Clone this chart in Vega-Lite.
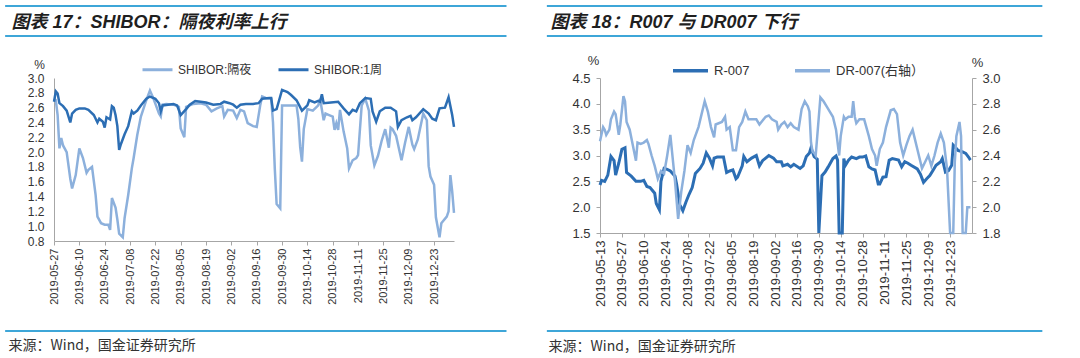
{
  "$schema": "https://vega.github.io/schema/vega-lite/v6.json",
  "background": "white",
  "padding": {"left": 4, "top": 4, "right": 0, "bottom": 0},
  "spacing": 37,
  "resolve": {"scale": {"color": "independent"}, "legend": {"color": "independent"}},
  "config": {
    "view": {"stroke": null},
    "font": "Liberation Sans, Noto Sans CJK SC",
    "axis": {"domainColor": "#A6A6A6", "tickColor": "#A6A6A6", "labelColor": "#333333", "titleColor": "#333333", "grid": false, "labelFont": "Liberation Sans", "titleFont": "Liberation Sans, Noto Sans CJK SC", "titleFontWeight": "normal", "labelOverlap": false},
    "legend": {"labelFont": "Liberation Sans, Noto Sans CJK SC", "labelColor": "#333333"}
  },
  "datasets": {
    "shibor": [
      {"date":"2019/05/27","series":"SHIBOR:隔夜","value":2.72},{"date":"2019/05/28","series":"SHIBOR:隔夜","value":2.70},{"date":"2019/05/29","series":"SHIBOR:隔夜","value":2.50},{"date":"2019/05/30","series":"SHIBOR:隔夜","value":2.05},{"date":"2019/05/31","series":"SHIBOR:隔夜","value":2.19},{"date":"2019/06/01","series":"SHIBOR:隔夜","value":2.09},{"date":"2019/06/03","series":"SHIBOR:隔夜","value":2.00},{"date":"2019/06/05","series":"SHIBOR:隔夜","value":1.64},{"date":"2019/06/06","series":"SHIBOR:隔夜","value":1.51},{"date":"2019/06/08","series":"SHIBOR:隔夜","value":1.69},{"date":"2019/06/10","series":"SHIBOR:隔夜","value":2.05},{"date":"2019/06/12","series":"SHIBOR:隔夜","value":1.92},{"date":"2019/06/14","series":"SHIBOR:隔夜","value":1.72},{"date":"2019/06/15","series":"SHIBOR:隔夜","value":1.76},{"date":"2019/06/17","series":"SHIBOR:隔夜","value":1.80},{"date":"2019/06/19","series":"SHIBOR:隔夜","value":1.42},{"date":"2019/06/20","series":"SHIBOR:隔夜","value":1.13},{"date":"2019/06/22","series":"SHIBOR:隔夜","value":1.04},{"date":"2019/06/24","series":"SHIBOR:隔夜","value":1.02},{"date":"2019/06/26","series":"SHIBOR:隔夜","value":1.02},{"date":"2019/06/27","series":"SHIBOR:隔夜","value":0.95},{"date":"2019/06/28","series":"SHIBOR:隔夜","value":1.38},{"date":"2019/06/30","series":"SHIBOR:隔夜","value":1.25},{"date":"2019/07/01","series":"SHIBOR:隔夜","value":1.09},{"date":"2019/07/02","series":"SHIBOR:隔夜","value":0.90},{"date":"2019/07/04","series":"SHIBOR:隔夜","value":0.85},{"date":"2019/07/05","series":"SHIBOR:隔夜","value":1.11},{"date":"2019/07/07","series":"SHIBOR:隔夜","value":1.42},{"date":"2019/07/09","series":"SHIBOR:隔夜","value":1.78},{"date":"2019/07/10","series":"SHIBOR:隔夜","value":1.92},{"date":"2019/07/12","series":"SHIBOR:隔夜","value":2.23},{"date":"2019/07/14","series":"SHIBOR:隔夜","value":2.48},{"date":"2019/07/17","series":"SHIBOR:隔夜","value":2.70},{"date":"2019/07/19","series":"SHIBOR:隔夜","value":2.83},{"date":"2019/07/21","series":"SHIBOR:隔夜","value":2.72},{"date":"2019/07/24","series":"SHIBOR:隔夜","value":2.52},{"date":"2019/07/25","series":"SHIBOR:隔夜","value":2.48},{"date":"2019/07/26","series":"SHIBOR:隔夜","value":2.64},{"date":"2019/07/28","series":"SHIBOR:隔夜","value":2.65},{"date":"2019/08/01","series":"SHIBOR:隔夜","value":2.64},{"date":"2019/08/04","series":"SHIBOR:隔夜","value":2.61},{"date":"2019/08/05","series":"SHIBOR:隔夜","value":2.32},{"date":"2019/08/07","series":"SHIBOR:隔夜","value":2.20},{"date":"2019/08/08","series":"SHIBOR:隔夜","value":2.61},{"date":"2019/08/12","series":"SHIBOR:隔夜","value":2.65},{"date":"2019/08/16","series":"SHIBOR:隔夜","value":2.66},{"date":"2019/08/19","series":"SHIBOR:隔夜","value":2.64},{"date":"2019/08/22","series":"SHIBOR:隔夜","value":2.55},{"date":"2019/08/25","series":"SHIBOR:隔夜","value":2.59},{"date":"2019/08/28","series":"SHIBOR:隔夜","value":2.62},{"date":"2019/08/29","series":"SHIBOR:隔夜","value":2.48},{"date":"2019/08/31","series":"SHIBOR:隔夜","value":2.57},{"date":"2019/09/03","series":"SHIBOR:隔夜","value":2.56},{"date":"2019/09/05","series":"SHIBOR:隔夜","value":2.46},{"date":"2019/09/07","series":"SHIBOR:隔夜","value":2.57},{"date":"2019/09/09","series":"SHIBOR:隔夜","value":2.55},{"date":"2019/09/11","series":"SHIBOR:隔夜","value":2.39},{"date":"2019/09/14","series":"SHIBOR:隔夜","value":2.35},{"date":"2019/09/16","series":"SHIBOR:隔夜","value":2.34},{"date":"2019/09/18","series":"SHIBOR:隔夜","value":2.64},{"date":"2019/09/19","series":"SHIBOR:隔夜","value":2.75},{"date":"2019/09/21","series":"SHIBOR:隔夜","value":2.73},{"date":"2019/09/24","series":"SHIBOR:隔夜","value":2.72},{"date":"2019/09/25","series":"SHIBOR:隔夜","value":2.40},{"date":"2019/09/26","series":"SHIBOR:隔夜","value":1.77},{"date":"2019/09/27","series":"SHIBOR:隔夜","value":1.30},{"date":"2019/09/29","series":"SHIBOR:隔夜","value":1.24},{"date":"2019/09/30","series":"SHIBOR:隔夜","value":2.63},{"date":"2019/10/03","series":"SHIBOR:隔夜","value":2.63},{"date":"2019/10/06","series":"SHIBOR:隔夜","value":2.63},{"date":"2019/10/08","series":"SHIBOR:隔夜","value":2.63},{"date":"2019/10/09","series":"SHIBOR:隔夜","value":2.45},{"date":"2019/10/10","series":"SHIBOR:隔夜","value":2.07},{"date":"2019/10/11","series":"SHIBOR:隔夜","value":1.87},{"date":"2019/10/12","series":"SHIBOR:隔夜","value":2.31},{"date":"2019/10/14","series":"SHIBOR:隔夜","value":2.58},{"date":"2019/10/17","series":"SHIBOR:隔夜","value":2.56},{"date":"2019/10/20","series":"SHIBOR:隔夜","value":2.63},{"date":"2019/10/21","series":"SHIBOR:隔夜","value":2.72},{"date":"2019/10/23","series":"SHIBOR:隔夜","value":2.43},{"date":"2019/10/24","series":"SHIBOR:隔夜","value":2.52},{"date":"2019/10/26","series":"SHIBOR:隔夜","value":2.50},{"date":"2019/10/28","series":"SHIBOR:隔夜","value":2.48},{"date":"2019/10/29","series":"SHIBOR:隔夜","value":2.30},{"date":"2019/10/30","series":"SHIBOR:隔夜","value":2.39},{"date":"2019/10/31","series":"SHIBOR:隔夜","value":2.30},{"date":"2019/11/01","series":"SHIBOR:隔夜","value":2.57},{"date":"2019/11/03","series":"SHIBOR:隔夜","value":2.28},{"date":"2019/11/05","series":"SHIBOR:隔夜","value":2.05},{"date":"2019/11/06","series":"SHIBOR:隔夜","value":1.78},{"date":"2019/11/08","series":"SHIBOR:隔夜","value":1.89},{"date":"2019/11/10","series":"SHIBOR:隔夜","value":1.92},{"date":"2019/11/11","series":"SHIBOR:隔夜","value":1.96},{"date":"2019/11/13","series":"SHIBOR:隔夜","value":2.63},{"date":"2019/11/15","series":"SHIBOR:隔夜","value":2.72},{"date":"2019/11/17","series":"SHIBOR:隔夜","value":2.56},{"date":"2019/11/18","series":"SHIBOR:隔夜","value":2.09},{"date":"2019/11/20","series":"SHIBOR:隔夜","value":1.82},{"date":"2019/11/22","series":"SHIBOR:隔夜","value":1.95},{"date":"2019/11/24","series":"SHIBOR:隔夜","value":2.15},{"date":"2019/11/26","series":"SHIBOR:隔夜","value":2.31},{"date":"2019/11/28","series":"SHIBOR:隔夜","value":2.06},{"date":"2019/11/29","series":"SHIBOR:隔夜","value":2.33},{"date":"2019/11/30","series":"SHIBOR:隔夜","value":2.31},{"date":"2019/12/02","series":"SHIBOR:隔夜","value":2.22},{"date":"2019/12/05","series":"SHIBOR:隔夜","value":1.89},{"date":"2019/12/07","series":"SHIBOR:隔夜","value":2.13},{"date":"2019/12/09","series":"SHIBOR:隔夜","value":2.34},{"date":"2019/12/11","series":"SHIBOR:隔夜","value":2.10},{"date":"2019/12/12","series":"SHIBOR:隔夜","value":2.04},{"date":"2019/12/14","series":"SHIBOR:隔夜","value":2.17},{"date":"2019/12/17","series":"SHIBOR:隔夜","value":2.52},{"date":"2019/12/19","series":"SHIBOR:隔夜","value":2.43},{"date":"2019/12/20","series":"SHIBOR:隔夜","value":1.81},{"date":"2019/12/21","series":"SHIBOR:隔夜","value":1.67},{"date":"2019/12/23","series":"SHIBOR:隔夜","value":1.56},{"date":"2019/12/24","series":"SHIBOR:隔夜","value":1.12},{"date":"2019/12/26","series":"SHIBOR:隔夜","value":0.85},{"date":"2019/12/27","series":"SHIBOR:隔夜","value":1.04},{"date":"2019/12/30","series":"SHIBOR:隔夜","value":1.13},{"date":"2019/12/31","series":"SHIBOR:隔夜","value":1.20},{"date":"2020/01/01","series":"SHIBOR:隔夜","value":1.69},{"date":"2020/01/02","series":"SHIBOR:隔夜","value":1.47},{"date":"2020/01/03","series":"SHIBOR:隔夜","value":1.18},
      {"date":"2019/05/27","series":"SHIBOR:1周","value":2.68},{"date":"2019/05/28","series":"SHIBOR:1周","value":2.82},{"date":"2019/05/29","series":"SHIBOR:1周","value":2.79},{"date":"2019/05/30","series":"SHIBOR:1周","value":2.66},{"date":"2019/06/01","series":"SHIBOR:1周","value":2.62},{"date":"2019/06/03","series":"SHIBOR:1周","value":2.56},{"date":"2019/06/05","series":"SHIBOR:1周","value":2.40},{"date":"2019/06/06","series":"SHIBOR:1周","value":2.52},{"date":"2019/06/08","series":"SHIBOR:1周","value":2.57},{"date":"2019/06/10","series":"SHIBOR:1周","value":2.59},{"date":"2019/06/13","series":"SHIBOR:1周","value":2.59},{"date":"2019/06/15","series":"SHIBOR:1周","value":2.57},{"date":"2019/06/18","series":"SHIBOR:1周","value":2.50},{"date":"2019/06/20","series":"SHIBOR:1周","value":2.40},{"date":"2019/06/21","series":"SHIBOR:1周","value":2.45},{"date":"2019/06/23","series":"SHIBOR:1周","value":2.41},{"date":"2019/06/24","series":"SHIBOR:1周","value":2.33},{"date":"2019/06/25","series":"SHIBOR:1周","value":2.47},{"date":"2019/06/27","series":"SHIBOR:1周","value":2.44},{"date":"2019/06/28","series":"SHIBOR:1周","value":2.62},{"date":"2019/06/29","series":"SHIBOR:1周","value":2.60},{"date":"2019/06/30","series":"SHIBOR:1周","value":2.50},{"date":"2019/07/01","series":"SHIBOR:1周","value":2.35},{"date":"2019/07/02","series":"SHIBOR:1周","value":2.03},{"date":"2019/07/03","series":"SHIBOR:1周","value":2.11},{"date":"2019/07/05","series":"SHIBOR:1周","value":2.24},{"date":"2019/07/07","series":"SHIBOR:1周","value":2.35},{"date":"2019/07/09","series":"SHIBOR:1周","value":2.55},{"date":"2019/07/10","series":"SHIBOR:1周","value":2.52},{"date":"2019/07/12","series":"SHIBOR:1周","value":2.56},{"date":"2019/07/14","series":"SHIBOR:1周","value":2.63},{"date":"2019/07/17","series":"SHIBOR:1周","value":2.72},{"date":"2019/07/19","series":"SHIBOR:1周","value":2.75},{"date":"2019/07/22","series":"SHIBOR:1周","value":2.72},{"date":"2019/07/24","series":"SHIBOR:1周","value":2.66},{"date":"2019/07/25","series":"SHIBOR:1周","value":2.55},{"date":"2019/07/26","series":"SHIBOR:1周","value":2.63},{"date":"2019/07/29","series":"SHIBOR:1周","value":2.64},{"date":"2019/08/01","series":"SHIBOR:1周","value":2.65},{"date":"2019/08/03","series":"SHIBOR:1周","value":2.63},{"date":"2019/08/05","series":"SHIBOR:1周","value":2.50},{"date":"2019/08/08","series":"SHIBOR:1周","value":2.58},{"date":"2019/08/10","series":"SHIBOR:1周","value":2.64},{"date":"2019/08/13","series":"SHIBOR:1周","value":2.69},{"date":"2019/08/16","series":"SHIBOR:1周","value":2.68},{"date":"2019/08/19","series":"SHIBOR:1周","value":2.67},{"date":"2019/08/23","series":"SHIBOR:1周","value":2.64},{"date":"2019/08/27","series":"SHIBOR:1周","value":2.65},{"date":"2019/08/29","series":"SHIBOR:1周","value":2.68},{"date":"2019/09/01","series":"SHIBOR:1周","value":2.66},{"date":"2019/09/03","series":"SHIBOR:1周","value":2.64},{"date":"2019/09/05","series":"SHIBOR:1周","value":2.60},{"date":"2019/09/07","series":"SHIBOR:1周","value":2.64},{"date":"2019/09/10","series":"SHIBOR:1周","value":2.65},{"date":"2019/09/14","series":"SHIBOR:1周","value":2.65},{"date":"2019/09/17","series":"SHIBOR:1周","value":2.66},{"date":"2019/09/19","series":"SHIBOR:1周","value":2.72},{"date":"2019/09/23","series":"SHIBOR:1周","value":2.73},{"date":"2019/09/24","series":"SHIBOR:1周","value":2.73},{"date":"2019/09/25","series":"SHIBOR:1周","value":2.56},{"date":"2019/09/27","series":"SHIBOR:1周","value":2.58},{"date":"2019/09/30","series":"SHIBOR:1周","value":2.84},{"date":"2019/10/03","series":"SHIBOR:1周","value":2.81},{"date":"2019/10/05","series":"SHIBOR:1周","value":2.77},{"date":"2019/10/08","series":"SHIBOR:1周","value":2.70},{"date":"2019/10/11","series":"SHIBOR:1周","value":2.56},{"date":"2019/10/14","series":"SHIBOR:1周","value":2.63},{"date":"2019/10/15","series":"SHIBOR:1周","value":2.70},{"date":"2019/10/18","series":"SHIBOR:1周","value":2.67},{"date":"2019/10/20","series":"SHIBOR:1周","value":2.69},{"date":"2019/10/21","series":"SHIBOR:1周","value":2.68},{"date":"2019/10/22","series":"SHIBOR:1周","value":2.78},{"date":"2019/10/23","series":"SHIBOR:1周","value":2.66},{"date":"2019/10/27","series":"SHIBOR:1周","value":2.67},{"date":"2019/10/31","series":"SHIBOR:1周","value":2.68},{"date":"2019/11/03","series":"SHIBOR:1周","value":2.59},{"date":"2019/11/06","series":"SHIBOR:1周","value":2.51},{"date":"2019/11/08","series":"SHIBOR:1周","value":2.57},{"date":"2019/11/10","series":"SHIBOR:1周","value":2.55},{"date":"2019/11/12","series":"SHIBOR:1周","value":2.66},{"date":"2019/11/15","series":"SHIBOR:1周","value":2.73},{"date":"2019/11/18","series":"SHIBOR:1周","value":2.72},{"date":"2019/11/19","series":"SHIBOR:1周","value":2.55},{"date":"2019/11/21","series":"SHIBOR:1周","value":2.41},{"date":"2019/11/23","series":"SHIBOR:1周","value":2.55},{"date":"2019/11/26","series":"SHIBOR:1周","value":2.60},{"date":"2019/11/29","series":"SHIBOR:1周","value":2.60},{"date":"2019/12/02","series":"SHIBOR:1周","value":2.55},{"date":"2019/12/03","series":"SHIBOR:1周","value":2.34},{"date":"2019/12/05","series":"SHIBOR:1周","value":2.43},{"date":"2019/12/08","series":"SHIBOR:1周","value":2.47},{"date":"2019/12/10","series":"SHIBOR:1周","value":2.49},{"date":"2019/12/11","series":"SHIBOR:1周","value":2.43},{"date":"2019/12/13","series":"SHIBOR:1周","value":2.47},{"date":"2019/12/17","series":"SHIBOR:1周","value":2.58},{"date":"2019/12/20","series":"SHIBOR:1周","value":2.52},{"date":"2019/12/22","series":"SHIBOR:1周","value":2.45},{"date":"2019/12/24","series":"SHIBOR:1周","value":2.43},{"date":"2019/12/26","series":"SHIBOR:1周","value":2.59},{"date":"2019/12/29","series":"SHIBOR:1周","value":2.60},{"date":"2019/12/31","series":"SHIBOR:1周","value":2.74},{"date":"2020/01/02","series":"SHIBOR:1周","value":2.50},{"date":"2020/01/03","series":"SHIBOR:1周","value":2.34}
    ],
    "r007": [
      {"date":"2019/05/13","series":"R-007","value":2.43},{"date":"2019/05/14","series":"R-007","value":2.52},{"date":"2019/05/16","series":"R-007","value":2.50},{"date":"2019/05/18","series":"R-007","value":2.62},{"date":"2019/05/20","series":"R-007","value":2.98},{"date":"2019/05/22","series":"R-007","value":2.90},{"date":"2019/05/23","series":"R-007","value":2.62},{"date":"2019/05/25","series":"R-007","value":2.85},{"date":"2019/05/27","series":"R-007","value":3.12},{"date":"2019/05/29","series":"R-007","value":3.15},{"date":"2019/05/30","series":"R-007","value":2.67},{"date":"2019/06/02","series":"R-007","value":2.60},{"date":"2019/06/05","series":"R-007","value":2.50},{"date":"2019/06/08","series":"R-007","value":2.50},{"date":"2019/06/10","series":"R-007","value":2.52},{"date":"2019/06/12","series":"R-007","value":2.40},{"date":"2019/06/14","series":"R-007","value":2.38},{"date":"2019/06/17","series":"R-007","value":2.27},{"date":"2019/06/18","series":"R-007","value":2.07},{"date":"2019/06/20","series":"R-007","value":1.95},{"date":"2019/06/21","series":"R-007","value":2.50},{"date":"2019/06/23","series":"R-007","value":2.75},{"date":"2019/06/25","series":"R-007","value":2.73},{"date":"2019/06/27","series":"R-007","value":2.70},{"date":"2019/06/30","series":"R-007","value":2.60},{"date":"2019/07/01","series":"R-007","value":2.45},{"date":"2019/07/03","series":"R-007","value":2.05},{"date":"2019/07/05","series":"R-007","value":1.93},{"date":"2019/07/07","series":"R-007","value":2.10},{"date":"2019/07/09","series":"R-007","value":2.25},{"date":"2019/07/11","series":"R-007","value":2.38},{"date":"2019/07/13","series":"R-007","value":2.65},{"date":"2019/07/16","series":"R-007","value":2.75},{"date":"2019/07/18","series":"R-007","value":2.85},{"date":"2019/07/20","series":"R-007","value":3.05},{"date":"2019/07/22","series":"R-007","value":2.95},{"date":"2019/07/24","series":"R-007","value":2.80},{"date":"2019/07/25","series":"R-007","value":2.95},{"date":"2019/07/27","series":"R-007","value":2.97},{"date":"2019/07/31","series":"R-007","value":2.97},{"date":"2019/08/02","series":"R-007","value":2.67},{"date":"2019/08/04","series":"R-007","value":2.70},{"date":"2019/08/06","series":"R-007","value":2.72},{"date":"2019/08/08","series":"R-007","value":2.55},{"date":"2019/08/09","series":"R-007","value":2.58},{"date":"2019/08/12","series":"R-007","value":2.80},{"date":"2019/08/13","series":"R-007","value":2.98},{"date":"2019/08/15","series":"R-007","value":2.88},{"date":"2019/08/18","series":"R-007","value":2.95},{"date":"2019/08/21","series":"R-007","value":3.00},{"date":"2019/08/23","series":"R-007","value":2.80},{"date":"2019/08/25","series":"R-007","value":2.90},{"date":"2019/08/29","series":"R-007","value":3.00},{"date":"2019/09/01","series":"R-007","value":2.95},{"date":"2019/09/03","series":"R-007","value":2.88},{"date":"2019/09/06","series":"R-007","value":2.88},{"date":"2019/09/07","series":"R-007","value":2.80},{"date":"2019/09/10","series":"R-007","value":2.83},{"date":"2019/09/12","series":"R-007","value":2.78},{"date":"2019/09/14","series":"R-007","value":2.83},{"date":"2019/09/18","series":"R-007","value":2.75},{"date":"2019/09/20","series":"R-007","value":2.80},{"date":"2019/09/22","series":"R-007","value":2.98},{"date":"2019/09/24","series":"R-007","value":3.05},{"date":"2019/09/25","series":"R-007","value":3.15},{"date":"2019/09/27","series":"R-007","value":2.98},{"date":"2019/09/29","series":"R-007","value":2.93},{"date":"2019/09/30","series":"R-007","value":1.50},{"date":"2019/10/02","series":"R-007","value":2.61},{"date":"2019/10/04","series":"R-007","value":2.68},{"date":"2019/10/06","series":"R-007","value":2.78},{"date":"2019/10/09","series":"R-007","value":2.94},{"date":"2019/10/11","series":"R-007","value":2.99},{"date":"2019/10/12","series":"R-007","value":2.91},{"date":"2019/10/13","series":"R-007","value":1.50},{"date":"2019/10/15","series":"R-007","value":1.50},{"date":"2019/10/16","series":"R-007","value":2.94},{"date":"2019/10/17","series":"R-007","value":2.81},{"date":"2019/10/19","series":"R-007","value":2.91},{"date":"2019/10/21","series":"R-007","value":2.97},{"date":"2019/10/24","series":"R-007","value":2.94},{"date":"2019/10/26","series":"R-007","value":2.97},{"date":"2019/10/28","series":"R-007","value":2.97},{"date":"2019/10/30","series":"R-007","value":2.99},{"date":"2019/11/01","series":"R-007","value":2.78},{"date":"2019/11/03","series":"R-007","value":2.74},{"date":"2019/11/05","series":"R-007","value":2.72},{"date":"2019/11/07","series":"R-007","value":2.45},{"date":"2019/11/08","series":"R-007","value":2.45},{"date":"2019/11/10","series":"R-007","value":2.58},{"date":"2019/11/12","series":"R-007","value":2.59},{"date":"2019/11/14","series":"R-007","value":2.91},{"date":"2019/11/16","series":"R-007","value":2.94},{"date":"2019/11/20","series":"R-007","value":2.91},{"date":"2019/11/22","series":"R-007","value":2.78},{"date":"2019/11/24","series":"R-007","value":2.88},{"date":"2019/11/26","series":"R-007","value":2.85},{"date":"2019/11/28","series":"R-007","value":2.81},{"date":"2019/12/02","series":"R-007","value":2.74},{"date":"2019/12/04","series":"R-007","value":2.64},{"date":"2019/12/06","series":"R-007","value":2.48},{"date":"2019/12/08","series":"R-007","value":2.55},{"date":"2019/12/10","series":"R-007","value":2.61},{"date":"2019/12/12","series":"R-007","value":2.71},{"date":"2019/12/14","series":"R-007","value":2.81},{"date":"2019/12/17","series":"R-007","value":2.88},{"date":"2019/12/18","series":"R-007","value":2.94},{"date":"2019/12/20","series":"R-007","value":2.68},{"date":"2019/12/22","series":"R-007","value":2.71},{"date":"2019/12/24","series":"R-007","value":2.81},{"date":"2019/12/25","series":"R-007","value":3.20},{"date":"2019/12/26","series":"R-007","value":3.17},{"date":"2019/12/28","series":"R-007","value":3.10},{"date":"2019/12/31","series":"R-007","value":3.07},{"date":"2020/01/02","series":"R-007","value":3.04},{"date":"2020/01/04","series":"R-007","value":2.96},{"date":"2020/01/05","series":"R-007","value":2.91}
    ],
    "dr007": [
      {"date":"2019/05/13","series":"DR-007(右轴）","value":2.51},{"date":"2019/05/15","series":"DR-007(右轴）","value":2.62},{"date":"2019/05/16","series":"DR-007(右轴）","value":2.60},{"date":"2019/05/17","series":"DR-007(右轴）","value":2.56},{"date":"2019/05/19","series":"DR-007(右轴）","value":2.60},{"date":"2019/05/20","series":"DR-007(右轴）","value":2.68},{"date":"2019/05/22","series":"DR-007(右轴）","value":2.74},{"date":"2019/05/23","series":"DR-007(右轴）","value":2.72},{"date":"2019/05/25","series":"DR-007(右轴）","value":2.56},{"date":"2019/05/26","series":"DR-007(右轴）","value":2.64},{"date":"2019/05/28","series":"DR-007(右轴）","value":2.86},{"date":"2019/05/29","series":"DR-007(右轴）","value":2.82},{"date":"2019/05/30","series":"DR-007(右轴）","value":2.66},{"date":"2019/06/01","series":"DR-007(右轴）","value":2.60},{"date":"2019/06/03","series":"DR-007(右轴）","value":2.48},{"date":"2019/06/05","series":"DR-007(右轴）","value":2.36},{"date":"2019/06/06","series":"DR-007(右轴）","value":2.50},{"date":"2019/06/08","series":"DR-007(右轴）","value":2.49},{"date":"2019/06/10","series":"DR-007(右轴）","value":2.50},{"date":"2019/06/12","series":"DR-007(右轴）","value":2.52},{"date":"2019/06/13","series":"DR-007(右轴）","value":2.49},{"date":"2019/06/15","series":"DR-007(右轴）","value":2.40},{"date":"2019/06/17","series":"DR-007(右轴）","value":2.32},{"date":"2019/06/19","series":"DR-007(右轴）","value":2.22},{"date":"2019/06/21","series":"DR-007(右轴）","value":2.28},{"date":"2019/06/23","series":"DR-007(右轴）","value":2.26},{"date":"2019/06/25","series":"DR-007(右轴）","value":2.40},{"date":"2019/06/27","series":"DR-007(右轴）","value":2.56},{"date":"2019/06/28","series":"DR-007(右轴）","value":2.44},{"date":"2019/06/30","series":"DR-007(右轴）","value":2.20},{"date":"2019/07/02","series":"DR-007(右轴）","value":1.91},{"date":"2019/07/04","series":"DR-007(右轴）","value":2.12},{"date":"2019/07/06","series":"DR-007(右轴）","value":2.28},{"date":"2019/07/08","series":"DR-007(右轴）","value":2.48},{"date":"2019/07/10","series":"DR-007(右轴）","value":2.42},{"date":"2019/07/12","series":"DR-007(右轴）","value":2.52},{"date":"2019/07/15","series":"DR-007(右轴）","value":2.62},{"date":"2019/07/17","series":"DR-007(右轴）","value":2.72},{"date":"2019/07/19","series":"DR-007(右轴）","value":2.82},{"date":"2019/07/21","series":"DR-007(右轴）","value":2.74},{"date":"2019/07/23","series":"DR-007(右轴）","value":2.62},{"date":"2019/07/25","series":"DR-007(右轴）","value":2.54},{"date":"2019/07/26","series":"DR-007(右轴）","value":2.64},{"date":"2019/07/30","series":"DR-007(右轴）","value":2.66},{"date":"2019/08/01","series":"DR-007(右轴）","value":2.70},{"date":"2019/08/02","series":"DR-007(右轴）","value":2.60},{"date":"2019/08/04","series":"DR-007(右轴）","value":2.62},{"date":"2019/08/06","series":"DR-007(右轴）","value":2.44},{"date":"2019/08/08","series":"DR-007(右轴）","value":2.44},{"date":"2019/08/10","series":"DR-007(右轴）","value":2.62},{"date":"2019/08/12","series":"DR-007(右轴）","value":2.66},{"date":"2019/08/14","series":"DR-007(右轴）","value":2.74},{"date":"2019/08/16","series":"DR-007(右轴）","value":2.68},{"date":"2019/08/21","series":"DR-007(右轴）","value":2.68},{"date":"2019/08/23","series":"DR-007(右轴）","value":2.64},{"date":"2019/08/27","series":"DR-007(右轴）","value":2.70},{"date":"2019/08/29","series":"DR-007(右轴）","value":2.71},{"date":"2019/08/31","series":"DR-007(右轴）","value":2.68},{"date":"2019/09/03","series":"DR-007(右轴）","value":2.66},{"date":"2019/09/04","series":"DR-007(右轴）","value":2.60},{"date":"2019/09/06","series":"DR-007(右轴）","value":2.64},{"date":"2019/09/08","series":"DR-007(右轴）","value":2.66},{"date":"2019/09/10","series":"DR-007(右轴）","value":2.62},{"date":"2019/09/12","series":"DR-007(右轴）","value":2.65},{"date":"2019/09/14","series":"DR-007(右轴）","value":2.62},{"date":"2019/09/17","series":"DR-007(右轴）","value":2.60},{"date":"2019/09/19","series":"DR-007(右轴）","value":2.76},{"date":"2019/09/21","series":"DR-007(右轴）","value":2.82},{"date":"2019/09/23","series":"DR-007(右轴）","value":2.78},{"date":"2019/09/24","series":"DR-007(右轴）","value":2.74},{"date":"2019/09/25","series":"DR-007(右轴）","value":2.50},{"date":"2019/09/26","series":"DR-007(右轴）","value":2.43},{"date":"2019/09/27","series":"DR-007(右轴）","value":2.42},{"date":"2019/09/28","series":"DR-007(右轴）","value":2.40},{"date":"2019/10/01","series":"DR-007(右轴）","value":2.85},{"date":"2019/10/03","series":"DR-007(右轴）","value":2.82},{"date":"2019/10/05","series":"DR-007(右轴）","value":2.78},{"date":"2019/10/07","series":"DR-007(右轴）","value":2.74},{"date":"2019/10/09","series":"DR-007(右轴）","value":2.70},{"date":"2019/10/11","series":"DR-007(右轴）","value":2.60},{"date":"2019/10/12","series":"DR-007(右轴）","value":2.50},{"date":"2019/10/13","series":"DR-007(右轴）","value":2.40},{"date":"2019/10/14","series":"DR-007(右轴）","value":2.55},{"date":"2019/10/16","series":"DR-007(右轴）","value":2.70},{"date":"2019/10/17","series":"DR-007(右轴）","value":2.68},{"date":"2019/10/19","series":"DR-007(右轴）","value":2.70},{"date":"2019/10/21","series":"DR-007(右轴）","value":2.70},{"date":"2019/10/22","series":"DR-007(右轴）","value":2.82},{"date":"2019/10/23","series":"DR-007(右轴）","value":2.70},{"date":"2019/10/24","series":"DR-007(右轴）","value":2.65},{"date":"2019/10/26","series":"DR-007(右轴）","value":2.68},{"date":"2019/10/29","series":"DR-007(右轴）","value":2.68},{"date":"2019/11/01","series":"DR-007(右轴）","value":2.55},{"date":"2019/11/03","series":"DR-007(右轴）","value":2.45},{"date":"2019/11/05","series":"DR-007(右轴）","value":2.40},{"date":"2019/11/06","series":"DR-007(右轴）","value":2.32},{"date":"2019/11/08","series":"DR-007(右轴）","value":2.45},{"date":"2019/11/10","series":"DR-007(右轴）","value":2.50},{"date":"2019/11/12","series":"DR-007(右轴）","value":2.62},{"date":"2019/11/15","series":"DR-007(右轴）","value":2.75},{"date":"2019/11/17","series":"DR-007(右轴）","value":2.76},{"date":"2019/11/19","series":"DR-007(右轴）","value":2.72},{"date":"2019/11/21","series":"DR-007(右轴）","value":2.50},{"date":"2019/11/23","series":"DR-007(右轴）","value":2.40},{"date":"2019/11/25","series":"DR-007(右轴）","value":2.48},{"date":"2019/11/27","series":"DR-007(右轴）","value":2.55},{"date":"2019/11/29","series":"DR-007(右轴）","value":2.60},{"date":"2019/11/30","series":"DR-007(右轴）","value":2.55},{"date":"2019/12/02","series":"DR-007(右轴）","value":2.45},{"date":"2019/12/05","series":"DR-007(右轴）","value":2.30},{"date":"2019/12/07","series":"DR-007(右轴）","value":2.35},{"date":"2019/12/09","series":"DR-007(右轴）","value":2.40},{"date":"2019/12/11","series":"DR-007(右轴）","value":2.32},{"date":"2019/12/13","series":"DR-007(右轴）","value":2.40},{"date":"2019/12/15","series":"DR-007(右轴）","value":2.50},{"date":"2019/12/17","series":"DR-007(右轴）","value":2.57},{"date":"2019/12/19","series":"DR-007(右轴）","value":2.50},{"date":"2019/12/21","series":"DR-007(右轴）","value":2.30},{"date":"2019/12/23","series":"DR-007(右轴）","value":1.80},{"date":"2019/12/25","series":"DR-007(右轴）","value":1.80},{"date":"2019/12/26","series":"DR-007(右轴）","value":2.35},{"date":"2019/12/27","series":"DR-007(右轴）","value":2.55},{"date":"2019/12/29","series":"DR-007(右轴）","value":2.66},{"date":"2019/12/30","series":"DR-007(右轴）","value":2.55},{"date":"2019/12/31","series":"DR-007(右轴）","value":1.80},{"date":"2020/01/02","series":"DR-007(右轴）","value":1.80},{"date":"2020/01/03","series":"DR-007(右轴）","value":2.00},{"date":"2020/01/05","series":"DR-007(右轴）","value":2.00}
    ]
  },
  "hconcat": [
    {
      "width": 400,
      "height": 163,
      "layer": [
        {
          "data": {"name": "shibor"},
          "mark": {"type": "line", "strokeWidth": 2.5},
          "encoding": {
            "x": {
              "field": "date", "type": "temporal",
              "scale": {"domain": [{"year": 2019, "month": 5, "date": 27}, {"year": 2020, "month": 1, "date": 3}]},
              "axis": {
                "orient": "bottom",
                "values": [{"year":2019,"month":5,"date":27},{"year":2019,"month":6,"date":10},{"year":2019,"month":6,"date":24},{"year":2019,"month":7,"date":8},{"year":2019,"month":7,"date":22},{"year":2019,"month":8,"date":5},{"year":2019,"month":8,"date":19},{"year":2019,"month":9,"date":2},{"year":2019,"month":9,"date":16},{"year":2019,"month":9,"date":30},{"year":2019,"month":10,"date":14},{"year":2019,"month":10,"date":28},{"year":2019,"month":11,"date":11},{"year":2019,"month":11,"date":25},{"year":2019,"month":12,"date":9},{"year":2019,"month":12,"date":23}],
                "format": "%Y-%m-%d", "labelAngle": 270, "labelFontSize": 11, "tickSize": 4, "labelPadding": 3,
                "labelFlush": false, "labelOverlap": false,
                "title": "来源：Wind，国金证券研究所", "titleX": -46, "titleY": 104, "titleAlign": "left", "titleBaseline": "middle",
                "titleFontSize": 14, "titleFont": "Noto Sans CJK SC", "titleColor": "#333333"
              }
            },
            "y": {
              "field": "value", "type": "quantitative",
              "scale": {"domain": [0.8, 3.0], "zero": false, "nice": false},
              "axis": {
                "values": [0.8, 1.0, 1.2, 1.4, 1.6, 1.8, 2.0, 2.2, 2.4, 2.6, 2.8, 3.0], "tickCount": 100,
                "format": ".1f", "ticks": false, "labelPadding": 10, "labelFontSize": 12, "labelOverlap": false, "labelFlush": false,
                "title": "%", "titleAngle": 0, "titleX": -15, "titleY": -14, "titleAlign": "center", "titleBaseline": "middle", "titleFontSize": 12
              }
            },
            "color": {
              "field": "series", "type": "nominal",
              "scale": {"domain": ["SHIBOR:隔夜", "SHIBOR:1周"], "range": ["#8CB0DC", "#2C6EB4"]},
              "legend": {"orient": "none", "legendX": 87, "legendY": -25, "direction": "horizontal", "title": null,
                "symbolType": "stroke", "symbolSize": 900, "symbolStrokeWidth": 3, "labelFontSize": 12, "labelOffset": 4, "columnPadding": 20}
            }
          }
        },
        {
          "data": {"values": [{}]},
          "mark": {"type": "rule", "color": "#3EA6D8", "strokeWidth": 2},
          "encoding": {
            "x": {"datum": {"year": 2019, "month": 4, "date": 30}, "type": "temporal",
              "axis": {"orient": "top", "domain": false, "ticks": false, "labels": false, "grid": false,
                "title": "图表 17：SHIBOR：隔夜利率上行", "titleX": -43, "titleY": -56, "titleAlign": "left", "titleBaseline": "middle",
                "titleFontSize": 18, "titleFontWeight": "bold", "titleFontStyle": "italic", "titleColor": "#1F1F1F"}},
            "x2": {"datum": {"year": 2020, "month": 2, "date": 1}},
            "y": {"datum": 3.972}
          }
        },
        {
          "data": {"values": [{}]},
          "mark": {"type": "rule", "color": "#3EA6D8", "strokeWidth": 2},
          "encoding": {
            "x": {"datum": {"year": 2019, "month": 4, "date": 30}, "type": "temporal", "axis": null},
            "x2": {"datum": {"year": 2020, "month": 2, "date": 1}},
            "y": {"datum": 3.567}
          }
        },
        {
          "data": {"values": [{}]},
          "mark": {"type": "rule", "color": "#3EA6D8", "strokeWidth": 2},
          "encoding": {
            "x": {"datum": {"year": 2019, "month": 4, "date": 30}, "type": "temporal", "axis": null},
            "x2": {"datum": {"year": 2020, "month": 2, "date": 1}},
            "y": {"datum": -0.415}
          }
        }
      ],
      "resolve": {"axis": {"x": "independent"}}
    },
    {
      "width": 372,
      "height": 155,
      "layer": [
        {
          "layer": [
            {
              "data": {"name": "r007"},
              "mark": {"type": "line", "strokeWidth": 3},
              "encoding": {
                "x": {
                  "field": "date", "type": "temporal",
                  "scale": {"domain": [{"year": 2019, "month": 5, "date": 13}, {"year": 2020, "month": 1, "date": 6}]},
                  "axis": {
                    "orient": "bottom",
                    "values": [{"year":2019,"month":5,"date":13},{"year":2019,"month":5,"date":27},{"year":2019,"month":6,"date":10},{"year":2019,"month":6,"date":24},{"year":2019,"month":7,"date":8},{"year":2019,"month":7,"date":22},{"year":2019,"month":8,"date":5},{"year":2019,"month":8,"date":19},{"year":2019,"month":9,"date":2},{"year":2019,"month":9,"date":16},{"year":2019,"month":9,"date":30},{"year":2019,"month":10,"date":14},{"year":2019,"month":10,"date":28},{"year":2019,"month":11,"date":11},{"year":2019,"month":11,"date":25},{"year":2019,"month":12,"date":9},{"year":2019,"month":12,"date":23}],
                    "format": "%Y-%m-%d", "labelAngle": 270, "labelFontSize": 13, "tickSize": 4, "labelPadding": 3,
                    "labelFlush": false, "labelOverlap": false,
                    "title": "来源：Wind，国金证券研究所", "titleX": -52, "titleY": 113, "titleAlign": "left", "titleBaseline": "middle",
                    "titleFontSize": 14, "titleFont": "Noto Sans CJK SC", "titleColor": "#333333"
                  }
                },
                "y": {
                  "field": "value", "type": "quantitative",
                  "scale": {"domain": [1.5, 4.5], "zero": false, "nice": false},
                  "axis": {
                    "values": [1.5, 2.0, 2.5, 3.0, 3.5, 4.0, 4.5], "tickCount": 100,
                    "format": ".1f", "tickSize": 4, "labelPadding": 6, "labelFontSize": 13, "labelOverlap": false, "labelFlush": false,
                    "title": "%", "titleAngle": 0, "titleX": -7, "titleY": -18, "titleAlign": "center", "titleBaseline": "middle", "titleFontSize": 13
                  }
                },
                "color": {
                  "field": "series", "type": "nominal",
                  "scale": {"domain": ["R-007", "DR-007(右轴）"], "range": ["#2C6EB4", "#8CB0DC"]},
                  "legend": {"orient": "none", "legendX": 71, "legendY": -27, "direction": "horizontal", "title": null,
                    "symbolType": "stroke", "symbolSize": 1225, "symbolStrokeWidth": 3.5, "labelFontSize": 13, "labelOffset": 4, "columnPadding": 38}
                }
              }
            },
            {
              "data": {"values": [{}]},
              "mark": {"type": "rule", "color": "#3EA6D8", "strokeWidth": 2},
              "encoding": {
                "x": {"datum": {"year": 2019, "month": 4, "date": 9}, "type": "temporal",
                  "axis": {"orient": "top", "domain": false, "ticks": false, "labels": false, "grid": false,
                    "title": "图表 18：R007 与 DR007 下行", "titleX": -50, "titleY": -56, "titleAlign": "left", "titleBaseline": "middle",
                    "titleFontSize": 18, "titleFontWeight": "bold", "titleFontStyle": "italic", "titleColor": "#1F1F1F"}},
                "x2": {"datum": {"year": 2020, "month": 2, "date": 20}},
                "y": {"datum": 5.893}
              }
            },
            {
              "data": {"values": [{}]},
              "mark": {"type": "rule", "color": "#3EA6D8", "strokeWidth": 2},
              "encoding": {
                "x": {"datum": {"year": 2019, "month": 4, "date": 9}, "type": "temporal", "axis": null},
                "x2": {"datum": {"year": 2020, "month": 2, "date": 20}},
                "y": {"datum": 5.313}
              }
            },
            {
              "data": {"values": [{}]},
              "mark": {"type": "rule", "color": "#3EA6D8", "strokeWidth": 2},
              "encoding": {
                "x": {"datum": {"year": 2019, "month": 4, "date": 9}, "type": "temporal", "axis": null},
                "x2": {"datum": {"year": 2020, "month": 2, "date": 20}},
                "y": {"datum": -0.397}
              }
            }
          ],
          "resolve": {"axis": {"x": "independent"}}
        },
        {
          "data": {"name": "dr007"},
          "mark": {"type": "line", "strokeWidth": 2.5},
          "encoding": {
            "x": {"field": "date", "type": "temporal", "axis": null},
            "y": {
              "field": "value", "type": "quantitative",
              "scale": {"domain": [1.8, 3.0], "zero": false, "nice": false},
              "axis": {
                "orient": "right",
                "values": [1.8, 2.0, 2.2, 2.4, 2.6, 2.8, 3.0],
                "format": ".1f", "tickSize": 4, "labelPadding": 6, "labelFontSize": 13, "labelOverlap": false, "labelFlush": false,
                "title": "%", "titleAngle": 0, "titleX": 5, "titleY": -16, "titleAlign": "center", "titleBaseline": "middle", "titleFontSize": 13
              }
            },
            "color": {"field": "series", "type": "nominal", "legend": null}
          }
        }
      ],
      "resolve": {"scale": {"y": "independent"}, "axis": {"x": "independent"}}
    }
  ]
}
